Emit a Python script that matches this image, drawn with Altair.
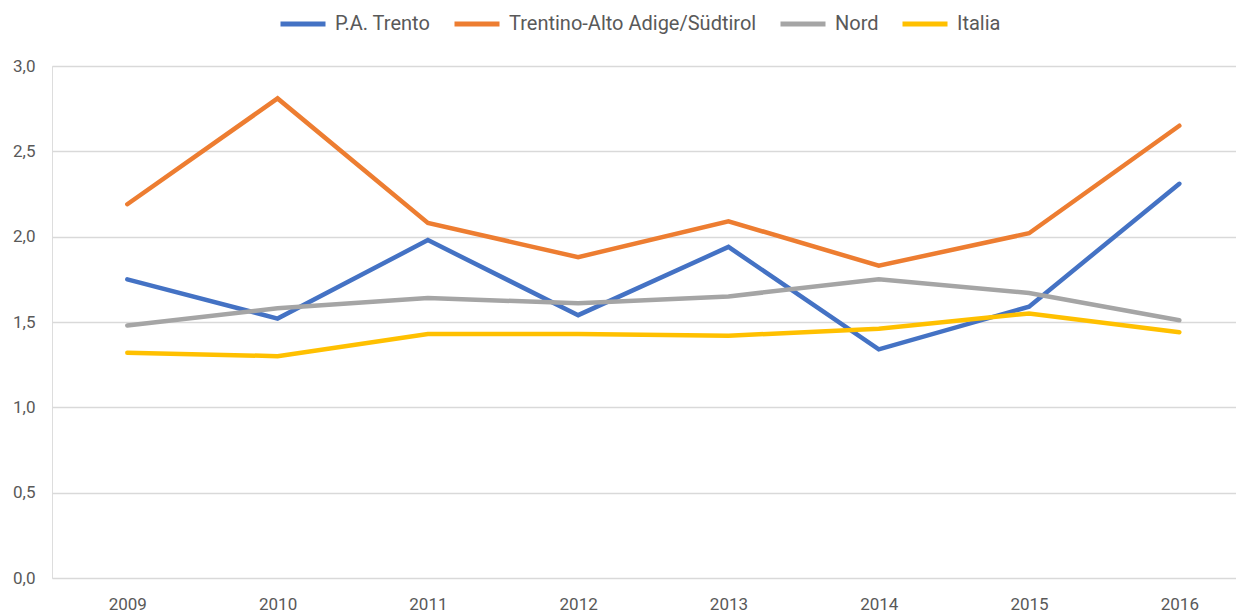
import altair as alt
import pandas as pd

years = [2009, 2010, 2011, 2012, 2013, 2014, 2015, 2016]
series = ["P.A. Trento", "Trentino-Alto Adige/Südtirol", "Nord", "Italia"]
colors = ["#4472C4", "#ED7D31", "#A5A5A5", "#FFC000"]

trento = [1.75, 1.52, 1.98, 1.54, 1.94, 1.34, 1.59, 2.31]
trentino_aa = [2.19, 2.81, 2.08, 1.88, 2.09, 1.83, 2.02, 2.65]
nord = [1.48, 1.58, 1.64, 1.61, 1.65, 1.75, 1.67, 1.51]
italia = [1.32, 1.30, 1.43, 1.43, 1.42, 1.46, 1.55, 1.44]

y_ticks = [0, 0.5, 1.0, 1.5, 2.0, 2.5, 3.0]

rows = []
for name, vals in zip(series, [trento, trentino_aa, nord, italia]):
    for yr, v in zip(years, vals):
        rows.append({"anno": yr, "valore": v, "serie": name})
df = pd.DataFrame(rows)

FONT = "Roboto, sans-serif"
TXT = "#595959"

chart = alt.Chart(df).mark_line(strokeWidth=4.5, strokeCap="round", strokeJoin="miter").encode(
    x=alt.X("anno:Q",
            scale=alt.Scale(domain=[2008.499, 2016.377], nice=False, zero=False),
            axis=alt.Axis(values=years, format="d", title=None, grid=False, ticks=False,
                          domain=False, labelFlush=False, labelPadding=18,
                          labelFont=FONT, labelFontSize=17, labelColor=TXT)),
    y=alt.Y("valore:Q",
            scale=alt.Scale(domain=[0, 3], nice=False),
            axis=alt.Axis(values=y_ticks, title=None, grid=True, ticks=False, domain=False,
                          labelExpr="replace(format(datum.value, '.1f'), '.', ',')",
                          labelPadding=17, labelFont=FONT, labelFontSize=17, labelColor=TXT,
                          gridColor="#D9D9D9", gridWidth=1.4)),
    color=alt.Color("serie:N",
                    scale=alt.Scale(domain=series, range=colors),
                    sort=series,
                    legend=alt.Legend(title=None, orient="none", direction="horizontal",
                                      legendX=226, legendY=-67,
                                      symbolType="stroke", symbolSize=2025, symbolStrokeWidth=5,
                                      labelFont=FONT, labelFontSize=20, labelColor=TXT,
                                      labelOffset=7, columnPadding=13, labelLimit=400)),
    order=alt.Order("anno:Q"),
).properties(
    width=1184, height=512,
    autosize=alt.AutoSizeParams(type="none"),
    padding={"left": 44, "top": 58, "right": 0, "bottom": 34},
).configure_view(stroke=None).configure(background="white")

chart.save("out.html", embed_options={"renderer": "svg", "actions": False})
